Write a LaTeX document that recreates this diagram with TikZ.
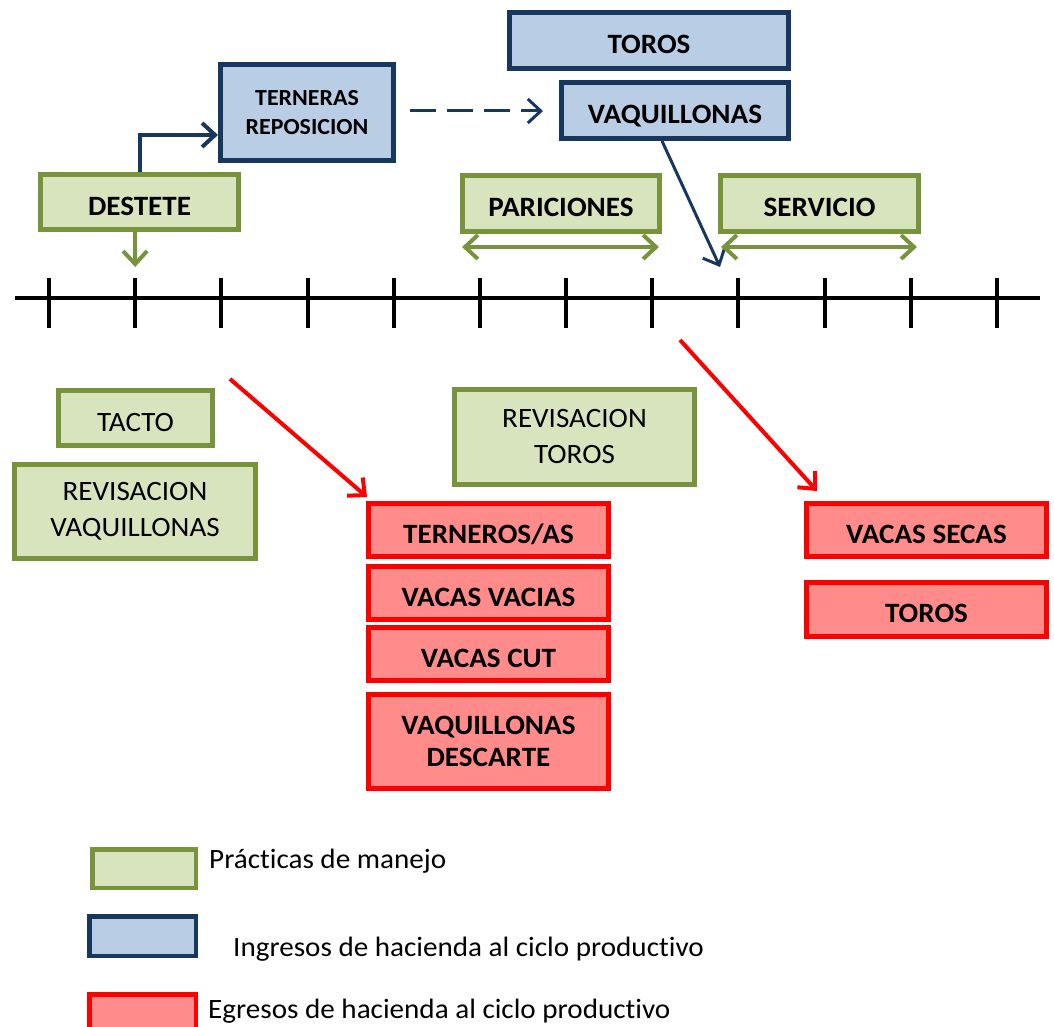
\documentclass[tikz,border=0pt]{standalone}
\usepackage{fontspec}
\setmainfont{Carlito}[FakeStretch=1.04, Ligatures=NoCommon]
\usetikzlibrary{arrows.meta}
\definecolor{verdeborde}{HTML}{77933C}
\definecolor{verdefondo}{HTML}{D7E4BD}
\definecolor{azulborde}{HTML}{17375E}
\definecolor{azulfondo}{HTML}{B9CDE5}
\definecolor{rojoborde}{HTML}{FF0000}
\definecolor{rojofondo}{HTML}{FF8B8B}
\tikzset{
  caja/.style={draw, line width=5pt, inner sep=0pt, align=center, font=\fontsize{28}{36}\selectfont},
  negrita/.style={font=\bfseries\fontsize{28}{32}\selectfont},
  unalinea/.style={text height=26pt, text depth=0pt},
  practica/.style={caja, draw=verdeborde, fill=verdefondo},
  ingreso/.style={caja, negrita, draw=azulborde, fill=azulfondo},
  egreso/.style={caja, negrita, draw=rojoborde, fill=rojofondo},
  leyenda/.style={inner sep=0pt, anchor=base west, font=\fontsize{28}{32}\selectfont},
  punta/.tip={Straight Barb[length=13pt,width=24pt]},
  flecha/.style={-punta, line width=4pt},
}
\begin{document}
\begin{tikzpicture}[x=1pt, y=-1pt]
  \useasboundingbox (0, 0) rectangle (1054, 1027);
    \coordinate (ejeA) at (15, 298);
    \coordinate (ejeB) at (1040, 298);
    \draw [line width=4pt] (ejeA) -- (ejeB);
    \foreach \i in {0,...,11} {
      \coordinate (m\i) at (49+86.18*\i, 298);
      \draw [line width=4pt] ([yshift=20pt]m\i) -- ([yshift=-30pt]m\i);
    }
    \node [practica, negrita, unalinea, minimum width=198pt, minimum height=55pt] (destete) at (139.5, 202) {DESTETE};
    \node [ingreso, font=\bfseries\fontsize{23}{29}\selectfont, minimum width=173pt, minimum height=96pt] (terneras) at (307, 113) {TERNERAS\\REPOSICION};
    \node [ingreso, unalinea, minimum width=279pt, minimum height=56pt] (torosIn) at (649, 40.5) {TOROS};
    \node [ingreso, unalinea, minimum width=227pt, minimum height=56pt] (vaqIn) at (675, 110.5) {VAQUILLONAS};
    \node [practica, negrita, unalinea, minimum width=197pt, minimum height=56pt] (pariciones) at (561, 203.5) {PARICIONES};
    \node [practica, negrita, unalinea, minimum width=198pt, minimum height=56pt] (servicio) at (819.5, 203.5) {SERVICIO};
    \node [practica, unalinea, minimum width=154pt, minimum height=55pt] (tacto) at (135.5, 418) {TACTO};
    \node [practica, minimum width=241pt, minimum height=94pt] (revVaq) at (135, 511.5) {REVISACION\\VAQUILLONAS};
    \node [practica, minimum width=240pt, minimum height=95pt] (revToros) at (574.5, 437) {REVISACION\\TOROS};
    \node [egreso, unalinea, minimum width=240pt, minimum height=53pt] (terneros) at (488.5, 530) {TERNEROS/AS};
    \node [egreso, unalinea, minimum width=240pt, minimum height=53pt] (vacias) at (488.5, 593) {VACAS VACIAS};
    \node [egreso, unalinea, minimum width=240pt, minimum height=53pt] (cut) at (488.5, 654) {VACAS CUT};
    \node [egreso, minimum width=240pt, minimum height=94pt] (descarte) at (488.5, 741.5) {VAQUILLONAS\\DESCARTE};
    \node [egreso, unalinea, minimum width=240pt, minimum height=53pt] (secas) at (926.5, 530) {VACAS SECAS};
    \node [egreso, unalinea, minimum width=240pt, minimum height=54pt] (torosOut) at (926.5, 609.5) {TOROS};
    \draw [flecha, verdeborde] ([xshift=-4.5pt]destete.south) -- ([yshift=31pt]m1);
    \draw [flecha, azulborde] (destete.north) |- ([yshift=-22pt]terneras.west);
    \draw [flecha, azulborde, line width=3pt, dash pattern=on 26pt off 11pt, shorten <=14pt, shorten >=16pt] ([yshift=2pt]terneras.east) -- ([yshift=2pt]terneras.east -| vaqIn.west);
    \coordinate (llegada) at (720, 267);
    \draw [flecha, azulborde, line width=3pt] ([xshift=-13pt]vaqIn.south) -- (llegada);
    \draw [punta-punta, line width=4pt, verdeborde, shorten <=2pt, shorten >=3pt] ([yshift=-13pt]pariciones.south west) -- ([yshift=-13pt]pariciones.south east);
    \draw [punta-punta, line width=4pt, verdeborde, shorten <=3pt, shorten >=4pt] ([yshift=-13pt]servicio.south west) -- ([yshift=-13pt]servicio.south east);
    \coordinate (salida1) at (230, 379);
    \coordinate (salida2) at (680, 340);
    \draw [flecha, rojoborde] (salida1) -- ([xshift=1pt,yshift=4pt]terneros.north west);
    \draw [flecha, rojoborde] (salida2) -- ([xshift=13pt,yshift=10pt]secas.north west);
    \node [practica, line width=4.5pt, minimum width=103.5pt, minimum height=38.5pt] (legPractica) at (144, 868.5) {};
    \node [ingreso, line width=4.5pt, minimum width=106.5pt, minimum height=39.5pt] (legIngreso) at (142.5, 936) {};
    \node [egreso, line width=4.5pt, minimum width=106.5pt, minimum height=39.5pt] (legEgreso) at (142.5, 1014) {};
    \node [leyenda] (txtPractica) at (209, 868) {Prácticas de manejo};
    \node [leyenda] (txtIngreso) at (233, 956) {Ingresos de hacienda al ciclo productivo};
    \node [leyenda] (txtEgreso) at (208, 1018) {Egresos de hacienda al ciclo productivo};
\end{tikzpicture}
\end{document}
